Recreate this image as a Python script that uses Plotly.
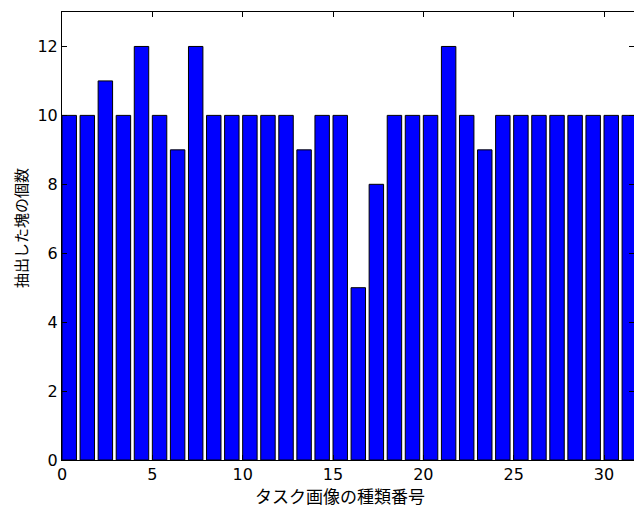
import plotly.graph_objects as go

categories = list(range(32))
values = [10, 10, 11, 10, 12, 10, 9, 12, 10, 10, 10, 10, 10, 9, 10, 10,
          5, 8, 10, 10, 10, 12, 10, 9, 10, 10, 10, 10, 10, 10, 10, 10]
xticks = [0, 5, 10, 15, 20, 25, 30]
yticks = [0, 2, 4, 6, 8, 10, 12]
xlabel = "タスク画像の種類番号"
ylabel = "抽出した塊の個数"

fig = go.Figure()
fig.add_trace(go.Bar(
    x=categories, y=values, width=0.8, offset=0,
    marker=dict(color="#0000ff", line=dict(color="black", width=1)),
))

L, T, B = 62, 12, 47
W, H = 634, 507

fig.update_layout(
    width=W, height=H,
    margin=dict(l=L, r=0, t=T, b=B, pad=0),
    plot_bgcolor="white", paper_bgcolor="white",
    showlegend=False,
    font=dict(family="DejaVu Sans", size=16, color="black"),
)
fig.update_xaxes(
    range=[0, 31.66], tickvals=xticks, ticks="inside", ticklen=5, tickcolor="black",
    showline=True, linecolor="black", linewidth=1, mirror="ticks",
    showgrid=False, zeroline=False,
)
fig.update_yaxes(
    range=[0, 13], tickvals=yticks, ticks="inside", ticklen=5, tickcolor="black",
    showline=True, linecolor="black", linewidth=1, mirror="ticks",
    showgrid=False, zeroline=False,
)

fig.add_annotation(
    text=xlabel, xref="paper", yref="paper",
    x=(340 - L) / (W - L), y=-(495 - (H - B)) / (H - T - B),
    xanchor="center", yanchor="middle", showarrow=False,
    font=dict(family="Noto Sans CJK JP", size=17, color="black"),
)
fig.add_annotation(
    text=ylabel, xref="paper", yref="paper",
    x=-(L - 21) / (W - L), y=((H - B) - 228) / (H - T - B),
    xanchor="center", yanchor="middle", showarrow=False, textangle=-90,
    font=dict(family="Noto Sans CJK JP", size=15, color="black"),
)

fig.write_html(
    "out.html",
    config={"displayModeBar": False},
    post_script="document.body.style.margin='0';document.body.style.overflow='hidden';",
)
